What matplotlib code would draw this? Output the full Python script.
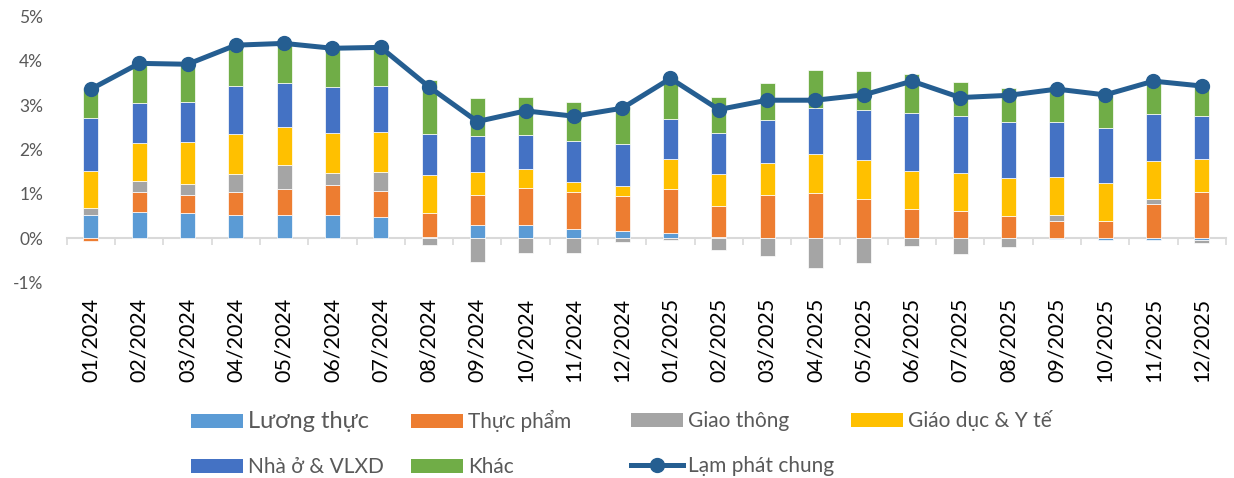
import matplotlib
matplotlib.use("Agg")
import matplotlib.pyplot as plt
import numpy as np
from matplotlib.patches import Patch
from matplotlib.lines import Line2D

plt.rcParams['font.family'] = ['Lato', 'Noto Sans', 'DejaVu Sans']

months = ["01/2024", "02/2024", "03/2024", "04/2024", "05/2024", "06/2024",
          "07/2024", "08/2024", "09/2024", "10/2024", "11/2024", "12/2024",
          "01/2025", "02/2025", "03/2025", "04/2025", "05/2025", "06/2025",
          "07/2025", "08/2025", "09/2025", "10/2025", "11/2025", "12/2025"]

# contributions, percentage points
luong_thuc = [0.52, 0.59, 0.56, 0.53, 0.52, 0.52, 0.49, 0.02, 0.29, 0.29, 0.22, 0.17,
              0.11, 0.02, 0.01, 0.0, 0.0, 0.0, 0.0, 0.0, -0.02, -0.04, -0.03, -0.03]
thuc_pham = [-0.07, 0.46, 0.42, 0.52, 0.60, 0.67, 0.58, 0.56, 0.69, 0.85, 0.82, 0.79,
             1.01, 0.70, 0.96, 1.03, 0.89, 0.67, 0.62, 0.51, 0.39, 0.40, 0.78, 1.05]
giao_thong = [0.17, 0.24, 0.25, 0.40, 0.52, 0.29, 0.43, -0.14, -0.53, -0.32, -0.33, -0.08,
              -0.03, -0.26, -0.40, -0.68, -0.56, -0.17, -0.36, -0.19, 0.14, 0.0, 0.11, -0.08]
giao_duc = [0.83, 0.85, 0.95, 0.89, 0.87, 0.90, 0.90, 0.85, 0.51, 0.41, 0.22, 0.21,
            0.67, 0.72, 0.72, 0.86, 0.88, 0.84, 0.85, 0.84, 0.84, 0.84, 0.85, 0.73]
nha_o = [1.20, 0.91, 0.90, 1.10, 0.99, 1.03, 1.04, 0.93, 0.81, 0.78, 0.94, 0.96,
         0.90, 0.93, 0.98, 1.05, 1.13, 1.32, 1.29, 1.28, 1.26, 1.25, 1.05, 0.97]
khac = [0.66, 0.85, 0.82, 0.91, 0.89, 0.87, 0.86, 1.21, 0.85, 0.86, 0.88, 0.86,
        0.95, 0.81, 0.83, 0.84, 0.87, 0.86, 0.76, 0.75, 0.80, 0.72, 0.74, 0.68]
lam_phat = [3.36, 3.94, 3.92, 4.35, 4.39, 4.28, 4.30, 3.41, 2.63, 2.87, 2.75, 2.93,
            3.60, 2.90, 3.11, 3.11, 3.23, 3.54, 3.17, 3.22, 3.36, 3.23, 3.54, 3.43]

series = [
    ("Lương thực", luong_thuc, "#5B9BD5"),
    ("Thực phẩm", thuc_pham, "#ED7D31"),
    ("Giao thông", giao_thong, "#A5A5A5"),
    ("Giáo dục & Y tế", giao_duc, "#FFC000"),
    ("Nhà ở & VLXD", nha_o, "#4472C4"),
    ("Khác", khac, "#70AD47"),
]
LINE_C = "#255E91"
TXT = "#595959"

W, H = 1234, 478
fig = plt.figure(figsize=(W / 100, H / 100), dpi=100)
ax = fig.add_axes([66.8 / W, 1 - 282.7 / H, (1225.9 - 66.8) / W, (282.7 - 16.3) / H])

x = np.arange(len(months))
pos_base = np.zeros(len(months))
neg_base = np.zeros(len(months))
for name, vals, col in series:
    v = np.array(vals)
    bottom = np.where(v >= 0, pos_base, neg_base)
    ax.bar(x, v, 0.31, bottom=bottom, color=col, edgecolor="white", linewidth=0.5, zorder=2)
    pos_base += np.where(v >= 0, v, 0)
    neg_base += np.where(v < 0, v, 0)

ax.plot(x, lam_phat, color=LINE_C, lw=3.6, marker="o", ms=10, zorder=4)

ymin, ymax = -1, 5
ax.set_ylim(ymin, ymax)
ax.set_xlim(-0.5, len(months) - 0.5)
for s in ax.spines.values():
    s.set_visible(False)
ax.set_yticks(range(-1, 6))
ax.set_yticklabels([f"{t}%" for t in range(-1, 6)])
ax.tick_params(axis="y", length=0, pad=17, labelsize=12.5, labelcolor=TXT)
ax.set_xticks(x)
ax.set_xticklabels(months, rotation=90, fontsize=15.5, color="black")
ax.tick_params(axis="x", length=0, pad=11)

# category axis at zero with tick marks between categories
zero_ax = ax.secondary_xaxis((0 - ymin) / (ymax - ymin))
zero_ax.set_xticks(np.arange(-0.5, len(months), 1))
zero_ax.tick_params(length=5, width=1.2, color="#D9D9D9", labelbottom=False, labeltop=False)
zero_ax.spines["bottom"].set_color("#D9D9D9")
zero_ax.spines["bottom"].set_linewidth(1.5)
for k in ("top", "left", "right"):
    zero_ax.spines[k].set_visible(False)

# legend: four columns
handles = {name: Patch(facecolor=col, edgecolor="none") for name, _, col in series}
handles["Lạm phát chung"] = Line2D([], [], color=LINE_C, lw=3.6, marker="o", ms=10)
columns = [
    (191, ["Lương thực", "Nhà ở & VLXD"], 411),
    (411, ["Thực phẩm", "Khác"], 410),
    (631, ["Giao thông", "Lạm phát chung"], 411),
    (851, ["Giáo dục & Y tế"], 410),
]
for xpx, names, ypx in columns:
    leg = fig.legend([handles[n] for n in names], names, loc="upper left",
                     bbox_to_anchor=(xpx / W, 1 - ypx / H), frameon=False,
                     fontsize=15, borderpad=0, borderaxespad=0,
                     handlelength=2.5, handleheight=0.65, handletextpad=0.25,
                     labelspacing=1.2)
    for t in leg.get_texts():
        t.set_color(TXT)
        if t.get_text() == "Lương thực":
            t.set_fontsize(17)

fig.savefig("out.png", dpi=100)
